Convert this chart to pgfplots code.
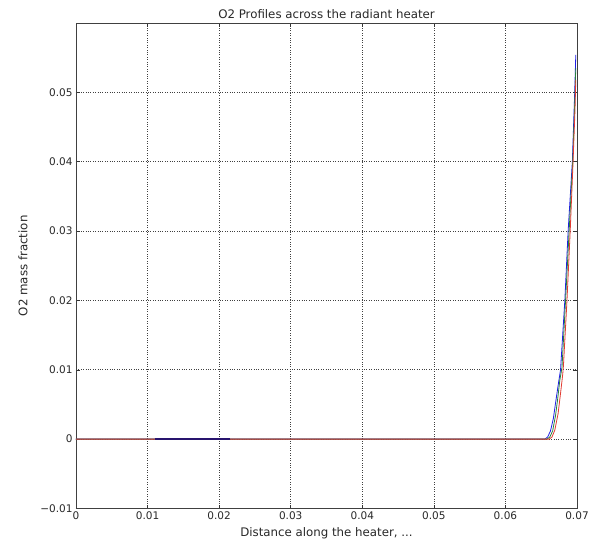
\documentclass[border=0pt]{standalone}
\usepackage{fontspec}
\setmainfont{DejaVu Sans}
\usepackage{pgfplots}
\pgfplotsset{compat=1.18}
\definecolor{txt}{RGB}{40,40,40}
\definecolor{cblue}{RGB}{30,30,230}
\definecolor{cgreen}{RGB}{40,130,60}
\definecolor{cred}{RGB}{225,60,50}
\definecolor{cnavy}{RGB}{40,20,110}

\begin{document}
\begin{tikzpicture}[x=1pt,y=1pt]
  \path[use as bounding box] (-76,-37.5) rectangle (518,508.5);
  \begin{axis}[
      at={(0,0)}, anchor=south west,
      scale only axis, width=501pt, height=485.5pt,
      xmin=0, xmax=0.07, ymin=-0.01, ymax=0.06,
      scaled ticks=false,
      xtick={0,0.01,0.02,0.03,0.04,0.05,0.06,0.07},
      xticklabels={0,0.01,0.02,0.03,0.04,0.05,0.06,0.07},
      ytick={-0.01,0,0.01,0.02,0.03,0.04,0.05},
      yticklabels={−0.01,0,0.01,0.02,0.03,0.04,0.05},
      tick align=inside, major tick length=4pt,
      tick style={black!80, line width=0.5pt},
      axis line style={black!75, line width=0.7pt},
      grid=major, major grid style={black!75, dotted, line width=0.6pt},
      tick label style={font=\fontsize{10.5}{12}\selectfont, text=txt},
      label style={font=\fontsize{11.8}{14}\selectfont, text=txt},
      title style={font=\fontsize{11.8}{14}\selectfont, text=txt, yshift=-5pt},
      title={O2 Profiles across the radiant heater},
      xlabel={Distance along the heater, ...},
      ylabel={O2 mass fraction},
      xlabel style={yshift=-1pt},
      ylabel style={yshift=6pt},
      every axis plot/.append style={line width=0.8pt},
    ]
    \addplot[cblue] coordinates {
      (0,0) (0.0655,0) (0.0659,0.0003) (0.0663,0.0012) (0.0667,0.0030) (0.0670,0.0052)
      (0.0674,0.0080) (0.0677,0.0100) (0.0683,0.0200) (0.06876,0.0300)
      (0.06935,0.0400) (0.06968,0.0500) (0.06983,0.0554)
    };
    \addplot[cgreen] coordinates {
      (0,0) (0.0658,0) (0.0662,0.0003) (0.0666,0.0012) (0.0670,0.0034) (0.0673,0.0058)
      (0.0676,0.0085) (0.0679,0.0103) (0.0684,0.0200) (0.0689,0.0300)
      (0.06940,0.0400) (0.06970,0.0490) (0.06983,0.0535)
    };
    \addplot[cred] coordinates {
      (0,0) (0.0661,0) (0.0665,0.0003) (0.0669,0.0013) (0.06736,0.0037) (0.0677,0.0066)
      (0.0680,0.0093) (0.0681,0.0105) (0.0686,0.0200) (0.06905,0.0300)
      (0.06945,0.0400) (0.06972,0.0475) (0.06983,0.0518)
    };
    \addplot[cnavy, line width=1.4pt] coordinates {
      (0.0110,0) (0.0215,0)
    };
  \end{axis}
\end{tikzpicture}
\end{document}
